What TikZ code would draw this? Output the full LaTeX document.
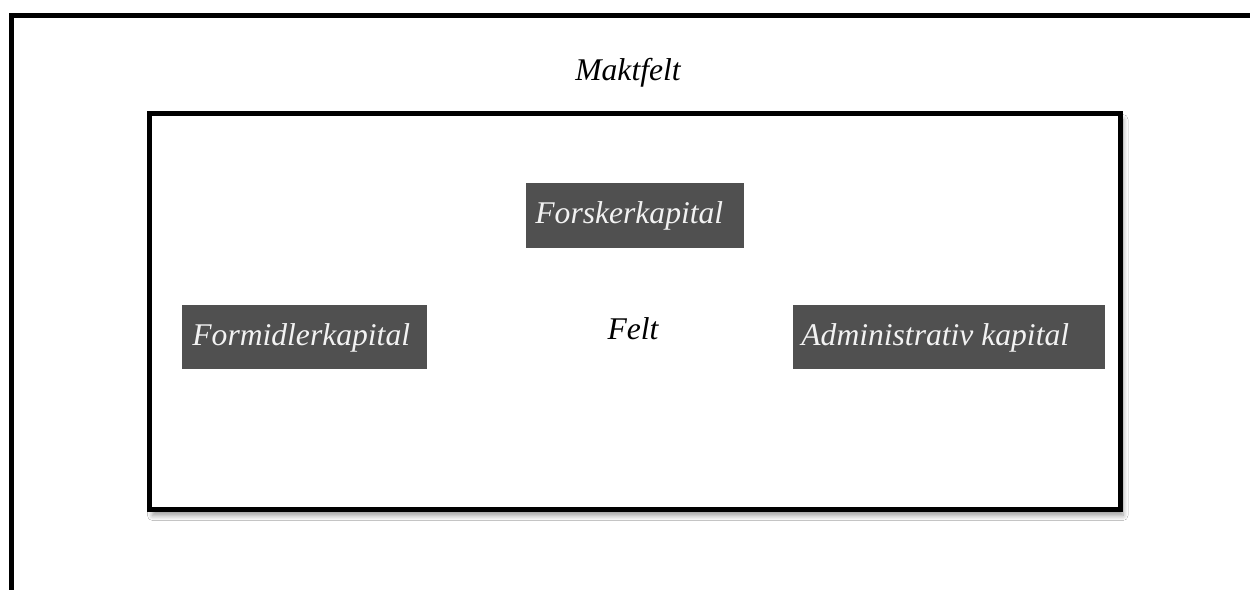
\documentclass[tikz,border=0pt]{standalone}
\usepackage{fontspec}
\setmainfont{Liberation Serif}
\usetikzlibrary{shadows.blur}
\definecolor{boxgrey}{HTML}{505050}
\definecolor{boxtext}{HTML}{F2F2F2}
\begin{document}
\begin{tikzpicture}[x=0.5pt,y=-0.5pt,
  frame/.style={draw=black,line width=2.5pt},
  capbox/.style={fill=boxgrey,draw=none},
  captext/.style={anchor=base west,inner sep=0pt,text=boxtext,font=\fontsize{15.8}{18}\selectfont\itshape},
  plain/.style={anchor=base,inner sep=0pt,text=black,font=\fontsize{15.8}{18}\selectfont\itshape}]
\useasboundingbox (0,0) rectangle (1250,590);
\clip (0,0) rectangle (1250,590);
\fill[white] (0,0) rectangle (1250,590);
% outer frame
\draw[frame] (11.5,15.5) rectangle (1270,620);
% inner frame
\draw[frame,fill=white,blur shadow={shadow xshift=1.5pt,shadow yshift=-3pt,shadow blur radius=2.5pt,shadow blur steps=8,shadow opacity=40}] (149.5,113.5) rectangle (1120,509.5);
\node[plain] (makt) at (628,80) {Maktfelt};
\node[plain] (felt) at (633,339) {Felt};
% boxes
\fill[capbox] (526,183) rectangle (744,248);
\node[captext] (forsker) at (535,223) {Forskerkapital};
\fill[capbox] (182,305) rectangle (427,369);
\node[captext] (formidler) at (192,345) {Formidlerkapital};
\fill[capbox] (793,305) rectangle (1105,369);
\node[captext] (admin) at (801,345) {Administrativ kapital};
\end{tikzpicture}
\end{document}
